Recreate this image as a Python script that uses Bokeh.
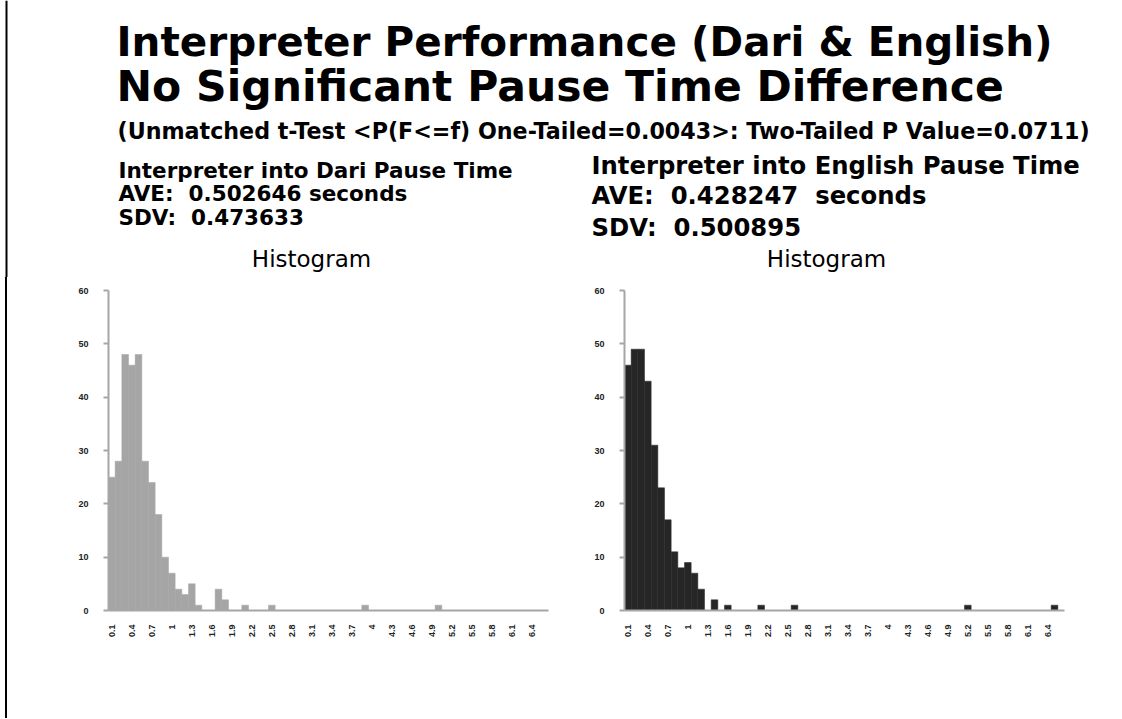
import math
from bokeh.plotting import figure
from bokeh.layouts import column, row
from bokeh.models import (Range1d, Div, Span, SingleIntervalTicker, FixedTicker,
                          ColumnDataSource, NumeralTickFormatter)
from bokeh.core.properties import value
from bokeh.embed import file_html
from bokeh.resources import INLINE

# ---------------- data ----------------
bins = [0.1, 0.2, 0.3, 0.4, 0.5, 0.6, 0.7, 0.8, 0.9, 1.0,
        1.1, 1.2, 1.3, 1.4, 1.5, 1.6, 1.7, 1.8, 1.9, 2.0,
        2.1, 2.2, 2.3, 2.4, 2.5, 2.6, 2.7, 2.8, 2.9, 3.0,
        3.1, 3.2, 3.3, 3.4, 3.5, 3.6, 3.7, 3.8, 3.9, 4.0,
        4.1, 4.2, 4.3, 4.4, 4.5, 4.6, 4.7, 4.8, 4.9, 5.0,
        5.1, 5.2, 5.3, 5.4, 5.5, 5.6, 5.7, 5.8, 5.9, 6.0,
        6.1, 6.2, 6.3, 6.4, 6.5, 6.6]

dari_counts = [25, 28, 48, 46, 48, 28, 24, 18, 10, 7,
               4, 3, 5, 1, 0, 0, 4, 2, 0, 0,
               1, 0, 0, 0, 1, 0, 0, 0, 0, 0,
               0, 0, 0, 0, 0, 0, 0, 0, 1, 0,
               0, 0, 0, 0, 0, 0, 0, 0, 0, 1,
               0, 0, 0, 0, 0, 0, 0, 0, 0, 0,
               0, 0, 0, 0, 0, 0]

english_counts = [46, 49, 49, 43, 31, 23, 17, 11, 8, 9,
                  7, 4, 0, 2, 0, 1, 0, 0, 0, 0,
                  1, 0, 0, 0, 0, 1, 0, 0, 0, 0,
                  0, 0, 0, 0, 0, 0, 0, 0, 0, 0,
                  0, 0, 0, 0, 0, 0, 0, 0, 0, 0,
                  0, 1, 0, 0, 0, 0, 0, 0, 0, 0,
                  0, 0, 0, 0, 1, 0]

x_tick_labels = [0.1, 0.4, 0.7, 1.0, 1.3, 1.6, 1.9, 2.2, 2.5, 2.8, 3.1,
                 3.4, 3.7, 4.0, 4.3, 4.6, 4.9, 5.2, 5.5, 5.8, 6.1, 6.4]
bin_width = 0.1
y_ticks_interval = 10
y_max = 60

NB = "\u00a0"
title_line1 = "Interpreter Performance (Dari & English)"
title_line2 = "No Significant Pause Time Difference"
subtitle = "(Unmatched t-Test <P(F<=f) One-Tailed=0.0043>: Two-Tailed P Value=0.0711)"
dari_lines = ["Interpreter into Dari Pause Time",
              "AVE:" + NB + NB + "0.502646 seconds",
              "SDV:" + NB + NB + "0.473633"]
english_lines = ["Interpreter into English Pause Time",
                 "AVE:" + NB + NB + "0.428247" + NB + NB + "seconds",
                 "SDV:" + NB + NB + "0.500895"]
hist_title = "Histogram"

HEAVY = value("DejaVu Sans")

# ---------------- header ----------------
HW, HH = 1110, 277
header = figure(width=HW, height=HH, x_range=Range1d(0, HW), y_range=Range1d(HH, 0),
                title=None, output_backend="svg", toolbar_location=None, min_border=0)
header.axis.visible = False
header.grid.visible = False
header.outline_line_color = None
header.add_layout(Span(location=6, dimension="height", line_color="black", line_width=2))

def txt(p, x, y, s, size, bold=True, align="left", font=HEAVY):
    p.text(x=[x], y=[y], text=[s], text_font=font, text_font_size=size,
           text_font_style="bold" if bold else "normal", text_align=align,
           text_baseline="alphabetic", text_color="black")

txt(header, 116, 41, title_line1, "40.5px")
txt(header, 116, 86, title_line2, "42.5px")
txt(header, 117, 130, subtitle, "22.2px")
for s, yy in zip(dari_lines, [170, 193, 217]):
    txt(header, 118, yy, s, "21.5px")
for s, yy in zip(english_lines, [165, 195, 227]):
    txt(header, 591, yy, s, "24.3px")
txt(header, 311, 258, hist_title, "23px", bold=False, align="center")
txt(header, 826, 258, hist_title, "23px", bold=False, align="center")

# ---------------- histograms ----------------
def hist(counts, color, bl, br):
    p = figure(x_range=Range1d(bins[0] - bin_width / 2, bins[-1] + bin_width / 2),
               y_range=Range1d(0, y_max), title=None,
               frame_width=440, frame_height=320,
               min_border_left=bl, min_border_right=br,
               min_border_top=13, min_border_bottom=93,
               output_backend="svg", toolbar_location=None)
    xs = [b for b, c in zip(bins, counts) if c > 0]
    ts = [c for c in counts if c > 0]
    src = ColumnDataSource(dict(x=xs, top=ts))
    p.vbar(x="x", top="top", width=bin_width, source=src, fill_color=color,
           line_color=color, line_width=0.5)
    p.grid.visible = False
    p.outline_line_color = None
    # y axis
    p.yaxis.ticker = SingleIntervalTicker(interval=y_ticks_interval)
    p.yaxis.minor_tick_line_color = None
    p.yaxis.major_tick_in = 0
    p.yaxis.major_tick_out = 5
    p.yaxis.major_tick_line_color = "#a6a6a6"
    p.yaxis.major_tick_line_width = 2
    p.yaxis.axis_line_color = "#a6a6a6"
    p.yaxis.axis_line_width = 2
    p.yaxis.major_label_text_font_size = "9px"
    p.yaxis.major_label_text_font_style = "bold"
    p.yaxis.major_label_text_color = "#222222"
    p.yaxis.major_label_text_font = "Liberation Sans"
    p.yaxis.major_label_standoff = 15
    # x axis
    p.xaxis.ticker = FixedTicker(ticks=x_tick_labels)
    p.xaxis.formatter = NumeralTickFormatter(format="0.[0]")
    p.xaxis.major_label_orientation = math.pi / 2
    p.xaxis.major_tick_line_color = None
    p.xaxis.minor_tick_line_color = None
    p.xaxis.axis_line_color = "#a6a6a6"
    p.xaxis.axis_line_width = 2
    p.xaxis.major_label_text_font_size = "9px"
    p.xaxis.major_label_text_font_style = "bold"
    p.xaxis.major_label_text_color = "#222222"
    p.xaxis.major_label_text_font = "Liberation Sans"
    p.xaxis.major_label_standoff = 8
    return p

h1 = hist(dari_counts, "#a5a5a5", 101, 13)
h2 = hist(english_counts, "#262626", 63, 52)

bar = Div(width=2, height=441, margin=(0, 0, 0, 5), styles={"background-color": "black"})

layout = column(header, row(bar, h1, h2, spacing=0), spacing=0)

open("out.html", "w").write(file_html(layout, INLINE))
